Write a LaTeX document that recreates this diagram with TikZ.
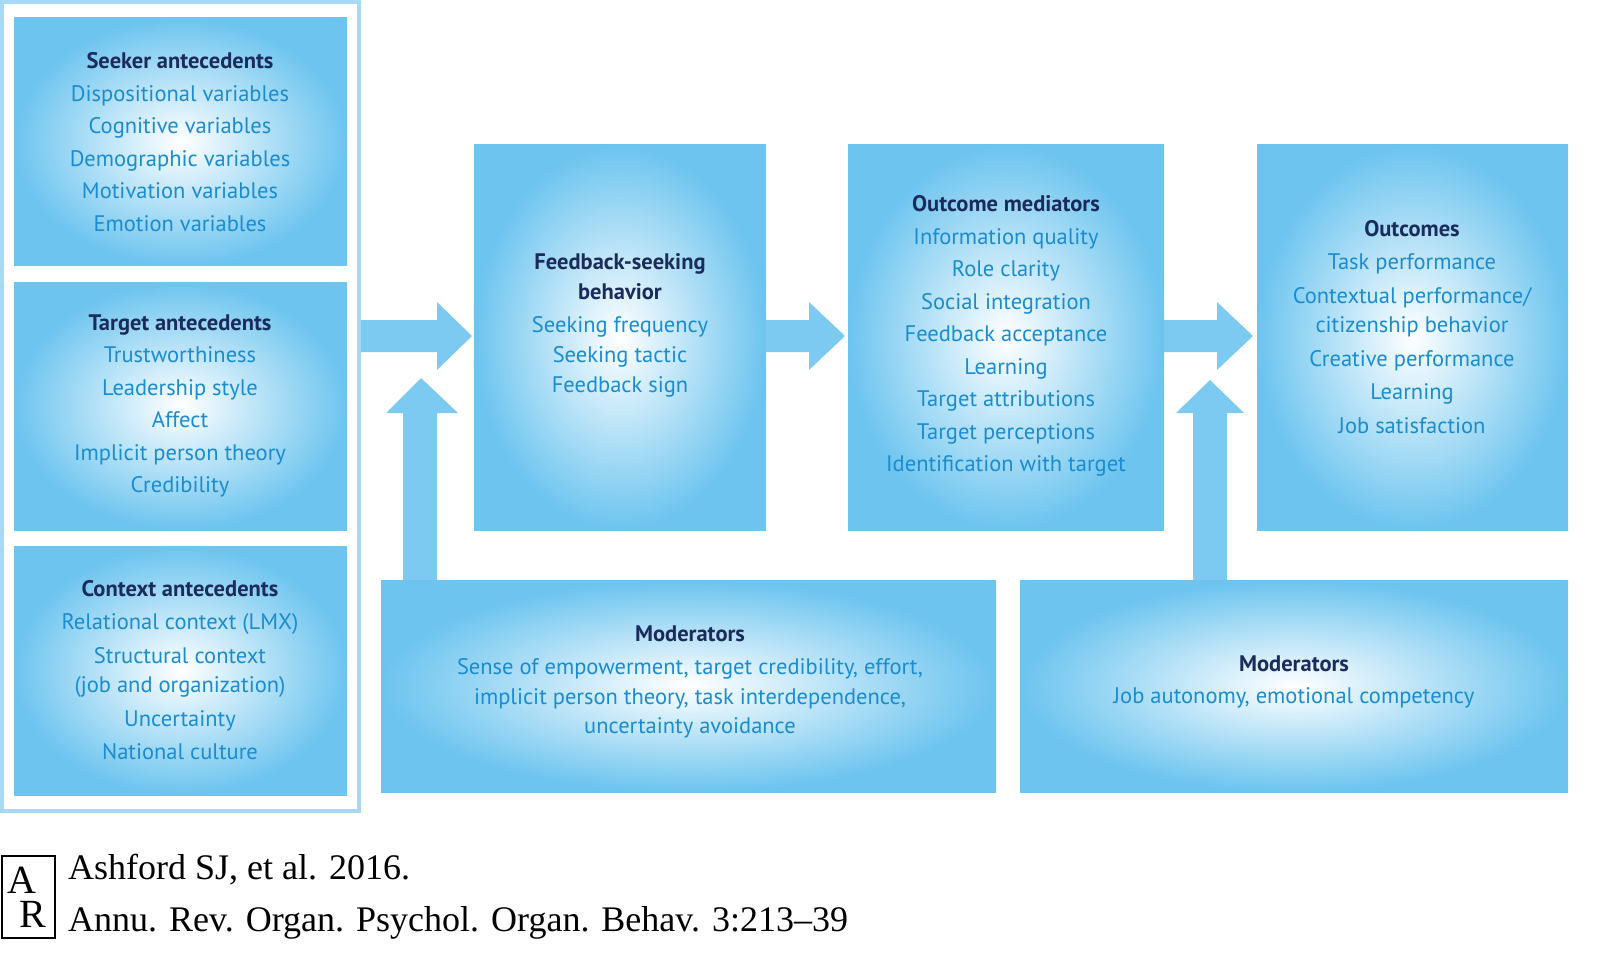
\documentclass[tikz,border=0pt]{standalone}
\usepackage{fontspec}
\setmainfont{PT Sans}
\newfontfamily\citefont{Liberation Serif}
\definecolor{boxblue}{HTML}{6CC4EF}
\definecolor{arrblue}{HTML}{7CCAF2}
\definecolor{head}{HTML}{1B2C5C}
\definecolor{item}{HTML}{1A8CD2}
\definecolor{panel}{HTML}{A6DAF4}
\begin{document}
\begin{tikzpicture}[x=1pt,y=-1pt,
 box/.style={inner color=white,outer color=boxblue},
 txt/.style={align=center,text=item,font=\fontsize{22.5}{32.5}\selectfont},
 arr/.style={fill=arrblue,draw=none}]
% left panel
\fill[panel] (0,0) rectangle (361,813);
\fill[white] (4,4) rectangle (357,809);
\foreach \n/\a/\b in {sk/18/266,tg/282/530,cx/546/795}{
 \shade[box] (14,\a) rectangle (347,\b);}
\shade[box] (474,145) rectangle (766,530);
\shade[box] (848,145) rectangle (1164,530);
\shade[box] (1257,145) rectangle (1568,530);
\shade[box] (381,580) rectangle (996,792);
\shade[box] (1020,580) rectangle (1568,792);
% arrows
\fill[arr] (361,320) -- (437,320) -- (437,302) -- (472,336) -- (437,370) -- (437,352) -- (361,352) -- cycle;
\fill[arr] (766,320) -- (809,320) -- (809,302) -- (845,336) -- (809,370) -- (809,352) -- (766,352) -- cycle;
\fill[arr] (1164,320) -- (1217,320) -- (1217,302) -- (1253,336) -- (1217,370) -- (1217,352) -- (1164,352) -- cycle;
\fill[arr] (403,580) -- (403,413) -- (386,413) -- (421,378) -- (458,413) -- (437,413) -- (437,580) -- cycle;
\fill[arr] (1193,580) -- (1193,413) -- (1176,413) -- (1210,380) -- (1244,413) -- (1227,413) -- (1227,580) -- cycle;
% texts
\node[txt] (seek) at (180,142) {\textcolor{head}{\textbf{Seeker antecedents}}\\Dispositional variables\\Cognitive variables\\Demographic variables\\Motivation variables\\Emotion variables};
\node[txt] (targ) at (180,406) {\textcolor{head}{\textbf{Target antecedents}}\\Trustworthiness\\Leadership style\\Affect\\Implicit person theory\\Credibility};
\node[txt,font=\fontsize{22.5}{29.5}\selectfont] (ctx) at (180,670) {\textcolor{head}{\textbf{Context antecedents}}\\[4pt]Relational context (LMX)\\[4pt]Structural context\\(job and organization)\\[4pt]Uncertainty\\[4pt]National culture};
\node[txt,font=\fontsize{22.5}{30}\selectfont] (fsb) at (620,325) {\textcolor{head}{\textbf{Feedback-seeking}}\\\textcolor{head}{\textbf{behavior}}\\[3pt]Seeking frequency\\Seeking tactic\\Feedback sign};
\node[txt] (med) at (1006,336) {\textcolor{head}{\textbf{Outcome mediators}}\\Information quality\\Role clarity\\Social integration\\Feedback acceptance\\Learning\\Target attributions\\Target perceptions\\Identification with target};
\node[txt,font=\fontsize{22.5}{29.5}\selectfont] (out) at (1412,327) {\textcolor{head}{\textbf{Outcomes}}\\[4pt]Task performance\\[4pt]Contextual performance/\\citizenship behavior\\[4pt]Creative performance\\[4pt]Learning\\[4pt]Job satisfaction};
\node[txt,font=\fontsize{22.5}{29.5}\selectfont] (mod1) at (690,682) {\textcolor{head}{\textbf{Moderators}}\\[4pt]Sense of empowerment, target credibility, effort,\\implicit person theory, task interdependence,\\uncertainty avoidance};
\node[txt] (mod2) at (1294,682) {\textcolor{head}{\textbf{Moderators}}\\Job autonomy, emotional competency};
% citation
\draw[line width=1.2pt] (2,856) rectangle (55,938);
\node[font=\citefont\fontsize{40}{40}\selectfont,inner sep=0] (la) at (22,880) {A};
\node[font=\citefont\fontsize{40}{40}\selectfont,inner sep=0] (lr) at (33,914) {R};
\node[anchor=west,font=\citefont\fontsize{36}{52}\selectfont,align=left,inner sep=0] (ref) at (68,897) {Ashford SJ, et al. 2016.\\Annu. Rev. Organ. Psychol. Organ. Behav. 3:213–39};
\pgfresetboundingbox
\useasboundingbox (0,0) rectangle (1600,968);
\end{tikzpicture}
\end{document}
